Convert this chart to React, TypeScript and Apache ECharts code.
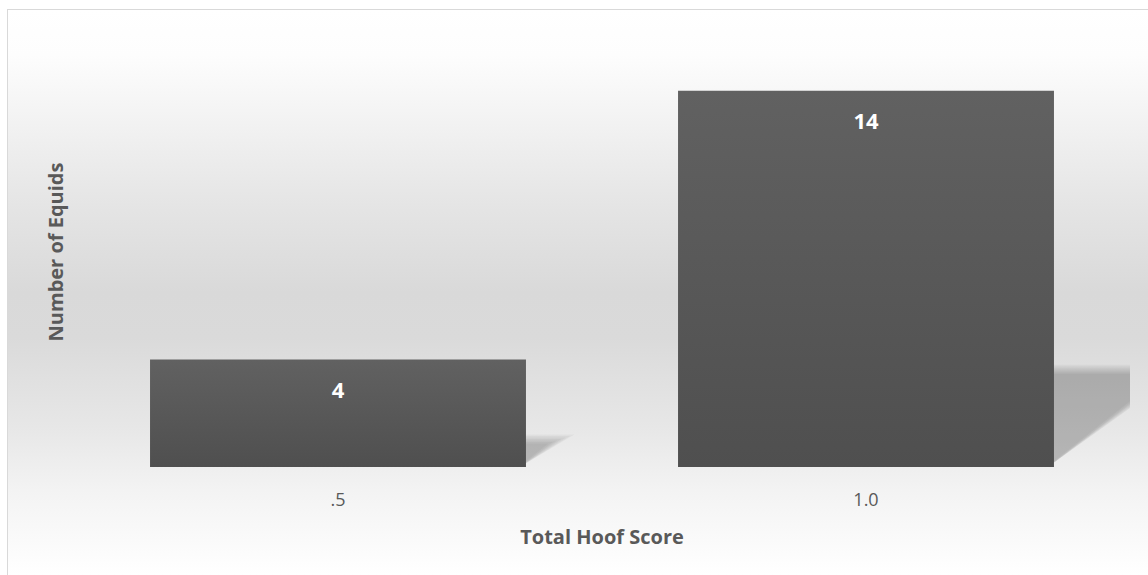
import React, { useEffect, useRef } from "react";
import * as echarts from "echarts";

const categories = [".5", "1.0"];
const equidCounts = [4, 14];
const xAxisTitle = "Total Hoof Score";
const yAxisTitle = "Number of Equids";

const FONT = "'Open Sans', 'Liberation Sans', sans-serif";
const TEXT_COLOR = "#595959";

export default function App() {
  const ref = useRef<HTMLDivElement>(null);

  useEffect(() => {
    if (!ref.current) return;
    const chart = echarts.init(ref.current, undefined, { renderer: "svg" });
    const barRatio = 0.712;

    const option: any = {
      animation: false,
      backgroundColor: "transparent",
      grid: { left: 66, right: 18, top: 27, bottom: 108 },
      xAxis: {
        type: "category",
        data: categories,
        axisLine: { show: false },
        axisTick: { show: false },
        axisLabel: {
          color: TEXT_COLOR,
          fontSize: 18,
          fontFamily: FONT,
          margin: 23,
        },
      },
      yAxis: {
        type: "value",
        min: 0,
        max: 16,
        interval: 2,
        show: false,
        splitLine: { show: false },
      },
      graphic: [
        {
          type: "text",
          x: 47,
          y: 242,
          rotation: Math.PI / 2,
          style: {
            text: yAxisTitle,
            fill: TEXT_COLOR,
            font: `bold 20px ${FONT}`,
            textAlign: "center",
            textVerticalAlign: "middle",
          },
        },
        {
          type: "text",
          x: 594,
          y: 526,
          style: {
            text: xAxisTitle,
            fill: TEXT_COLOR,
            font: `bold 20px ${FONT}`,
            textAlign: "center",
            textVerticalAlign: "middle",
          },
        },
      ],
      series: [
        {
          type: "custom",
          z: 1,
          clip: true,
          data: equidCounts.map((v, i) => [i, v]),
          renderItem: (params: any, api: any) => {
            const cat = api.value(0);
            const val = api.value(1);
            const top = api.coord([cat, val]);
            const base = api.coord([cat, 0]);
            const band = api.size([1, 0])[0];
            const right = base[0] + (band * barRatio) / 2;
            const h = base[1] - top[1];
            const sh = h * 0.26;
            const w = h * 0.33;
            const yTop = base[1] - sh;
            const L = Math.sqrt(sh * sh + w * w);
            // inward normal of the slanted edge
            const nx = -sh / L;
            const ny = -w / L;
            const leftX = right - 6;
            const children: any[] = [];
            const steps = [-4.5, -3, -1.5, 0, 1.5, 3, 4.5];
            for (const d of steps) {
              const yT = yTop + d;
              // slanted line through B + d*n with direction (-w, sh)
              const bx = right + w + d * nx;
              const by = yTop + d * ny;
              // intersect with y = yT
              const t1 = (yT - by) / sh;
              const px1 = bx - w * t1;
              // intersect with x = leftX
              const t2 = (bx - leftX) / w;
              const py2 = by + sh * t2;
              children.push({
                type: "polygon",
                shape: {
                  points: [
                    [leftX, yT],
                    [px1, yT],
                    [leftX, Math.min(py2, base[1])],
                  ],
                },
                style: { fill: "rgba(0,0,0,0.036)" },
              });
            }
            return { type: "group", children };
          },
        },
        {
          type: "bar",
          z: 2,
          data: equidCounts,
          barWidth: `${barRatio * 100}%`,
          itemStyle: {
            color: new echarts.graphic.LinearGradient(0, 0, 0, 1, [
              { offset: 0, color: "#616161" },
              { offset: 1, color: "#4f4f4f" },
            ]),
          },
          label: {
            show: true,
            position: "insideTop",
            distance: 18,
            color: "#ffffff",
            fontWeight: "bold",
            fontSize: 22,
            fontFamily: FONT,
          },
        },
      ],
    };
    chart.setOption(option);
    return () => chart.dispose();
  }, []);

  return (
    <div
      style={{
        position: "absolute",
        left: 7,
        top: 9,
        width: 1141,
        height: 566,
        boxSizing: "border-box",
        borderTop: "1px solid #d9d9d9",
        borderLeft: "1px solid #d9d9d9",
        background:
          "linear-gradient(to bottom, #ffffff 0%, #fdfdfd 8%, #e6e6e6 33%, #d9d9d9 50%, #dadada 58%, #e8e8e8 75%, #f3f3f3 85%, #ffffff 100%)",
        overflow: "hidden",
      }}
    >
      <div ref={ref} style={{ width: 1140, height: 565 }} />
    </div>
  );
}
